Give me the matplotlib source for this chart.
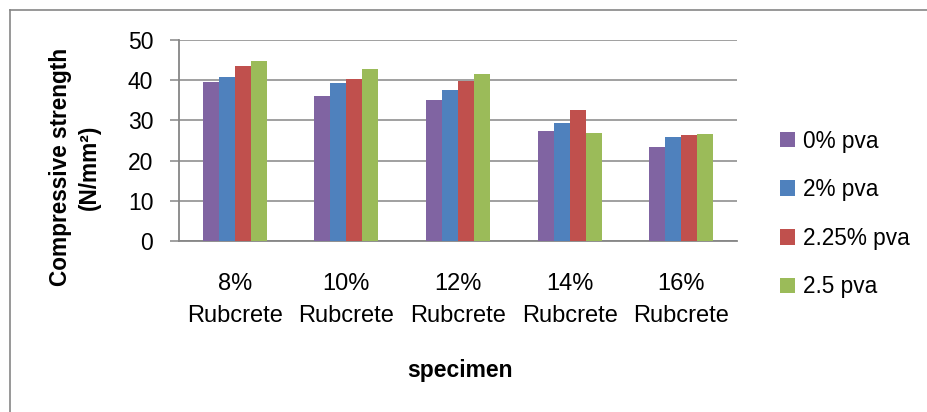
import numpy as np
import matplotlib
matplotlib.use("Agg")
import matplotlib.pyplot as plt
from matplotlib.lines import Line2D

categories = ["8%\nRubcrete", "10%\nRubcrete", "12%\nRubcrete", "14%\nRubcrete", "16%\nRubcrete"]
series_names = ["0% pva", "2% pva", "2.25% pva", "2.5 pva"]
pva_0 = [39.5, 36.0, 35.0, 27.4, 23.5]
pva_2 = [40.9, 39.3, 37.6, 29.4, 25.8]
pva_225 = [43.5, 40.4, 39.8, 32.6, 26.4]
pva_25 = [44.9, 42.8, 41.5, 26.9, 26.5]
yticks = [0, 10, 20, 30, 40, 50]

colors = ["#8064A2", "#4F81BD", "#C0504D", "#9BBB59"]
grid_col = "#868686"

plt.rcParams["font.family"] = ["Liberation Sans", "DejaVu Sans"]

fig = plt.figure(figsize=(9.27, 4.12), dpi=100)
ax = fig.add_axes([179 / 927, 1 - 241 / 412, (737 - 179) / 927, (241 - 40) / 412])

x = np.arange(len(categories))
w = 0.143
for j, vals in enumerate([pva_0, pva_2, pva_225, pva_25]):
    ax.bar(x + (j - 1.5) * w, vals, width=w, color=colors[j], label=series_names[j], zorder=3)

ax.set_xlim(-0.5, len(categories) - 0.5)
ax.set_ylim(0, 50)
ax.set_yticks(yticks)
ax.set_xticks(x)
ax.set_xticklabels(categories, fontsize=17, linespacing=1.6)
ax.tick_params(axis="x", length=0, pad=23)
ax.tick_params(axis="y", length=6.5, width=1.1, color=grid_col, pad=12, labelsize=16.5)

ax.grid(axis="y", color=grid_col, linewidth=1.1, zorder=0)
for s in ["top", "right"]:
    ax.spines[s].set_visible(False)
for s in ["left", "bottom"]:
    ax.spines[s].set_color(grid_col)
    ax.spines[s].set_linewidth(1.3)

fig.text(75 / 927, 1 - 167 / 412, "Compressive strength\n(N/mm²)", rotation=90,
         ha="center", va="center", multialignment="center", fontsize=16.3,
         fontweight="bold", linespacing=1.3)
fig.text(460 / 927, 1 - 370 / 412, "specimen", ha="center", va="center",
         fontsize=16.5, fontweight="bold")

ax.legend(loc="center left", bbox_to_anchor=(780 / 927, 1 - 214 / 412),
          bbox_transform=fig.transFigure, frameon=False, fontsize=16.3,
          handlelength=0.68, handleheight=0.68, handletextpad=0.35,
          labelspacing=1.13, borderpad=0, borderaxespad=0)

# outer chart frame (cut off at right and bottom)
fig.add_artist(Line2D([9.5 / 927, 9.5 / 927], [0, 1 - 10 / 412], color=grid_col,
                      linewidth=1.2, transform=fig.transFigure))
fig.add_artist(Line2D([9.5 / 927, 1], [1 - 10 / 412, 1 - 10 / 412], color=grid_col,
                      linewidth=1.2, transform=fig.transFigure))

fig.savefig("out.png", dpi=100)
